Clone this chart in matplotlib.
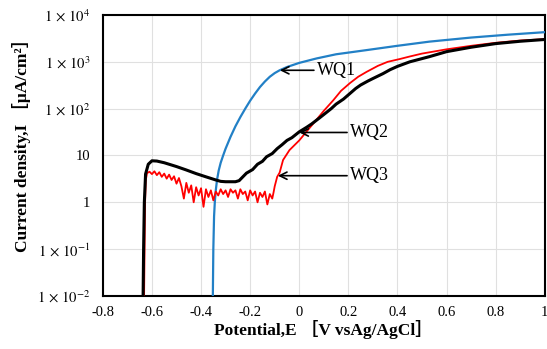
import matplotlib.pyplot as plt

plt.rcParams['font.family'] = ['Liberation Serif', 'Noto Sans CJK JP']
plt.rcParams['mathtext.fontset'] = 'stix'

# WQ1 (blue)
e_wq1 = [-0.352, -0.350, -0.347, -0.344, -0.340, -0.335, -0.328, -0.32, -0.31, -0.30, -0.28, -0.26,
         -0.24, -0.22, -0.20, -0.18, -0.16, -0.14, -0.12, -0.10, -0.08, -0.05, 0.0, 0.07, 0.15,
         0.274, 0.4, 0.53, 0.7, 0.85, 1.0]
i_wq1 = [0.01, 0.1, 0.5, 1.0, 1.8, 3.0, 4.8, 7.0, 10, 14, 25, 42,
         66, 100, 148, 210, 290, 380, 480, 575, 660, 775, 950, 1180, 1450,
         1780, 2200, 2700, 3300, 3800, 4300]

# WQ2 (black)
e_wq2 = [-0.636, -0.634, -0.631, -0.626, -0.615, -0.60, -0.58, -0.55, -0.50, -0.46, -0.42, -0.38,
         -0.34, -0.32, -0.30, -0.26, -0.245, -0.215, -0.19, -0.17, -0.15, -0.133, -0.11, -0.09,
         -0.07, -0.05, -0.03, 0.0, 0.03, 0.05, 0.08, 0.10, 0.13, 0.15, 0.18, 0.206, 0.23, 0.25,
         0.28, 0.30, 0.341, 0.37, 0.40, 0.45, 0.53, 0.6, 0.7, 0.8, 0.9, 1.0]
i_wq2 = [0.01, 0.1, 1.0, 4.0, 6.5, 7.7, 7.6, 7.0, 5.8, 4.9, 4.1, 3.5,
         3.0, 2.8, 2.75, 2.75, 2.9, 4.2, 5.0, 6.5, 7.5, 9.4, 11, 14,
         17, 21, 24, 32, 40, 47, 62, 75, 100, 125, 160, 210, 270, 320,
         390, 440, 560, 680, 800, 1000, 1290, 1650, 2050, 2450, 2750, 3000]

# WQ3 (red)
e_wq3 = [-0.632, -0.630, -0.628, -0.625, -0.62, -0.61, -0.60, -0.59, -0.58, -0.57, -0.56, -0.55,
         -0.54, -0.53, -0.52, -0.51, -0.50, -0.49, -0.48, -0.47, -0.46, -0.45, -0.44, -0.43,
         -0.42, -0.41, -0.40, -0.39, -0.38, -0.37, -0.36, -0.35, -0.34, -0.33, -0.32, -0.31,
         -0.30, -0.29, -0.28, -0.27, -0.26, -0.25, -0.24, -0.23, -0.22, -0.21, -0.20, -0.19,
         -0.18, -0.17, -0.16, -0.15, -0.14, -0.13, -0.12, -0.11, -0.105, -0.10, -0.09, -0.08,
         -0.066, -0.04, 0.0, 0.035, 0.07, 0.10, 0.138, 0.17, 0.206, 0.24, 0.274, 0.32, 0.36,
         0.41, 0.45, 0.5, 0.6, 0.7, 0.8, 0.9, 1.0]
i_wq3 = [0.01, 0.1, 1.0, 3.0, 4.2, 4.5, 4.0, 4.6, 3.8, 4.4, 3.5, 4.1,
         3.2, 3.9, 3.0, 3.6, 2.5, 3.3, 2.2, 1.2, 2.6, 1.6, 2.3, 1.0,
         2.1, 1.4, 2.0, 0.8, 1.9, 1.3, 1.8, 1.1, 1.7, 1.4, 1.9, 1.5,
         1.8, 1.3, 1.9, 1.6, 1.8, 1.2, 1.9, 1.5, 1.7, 1.1, 1.8, 1.4,
         1.7, 1.0, 1.6, 1.3, 1.7, 0.9, 1.5, 1.2, 1.6, 2.2, 3.5, 4.3,
         8, 13, 21, 35, 58, 90, 150, 240, 350, 480, 610, 820, 1000,
         1150, 1300, 1500, 1850, 2200, 2550, 2850, 3050]

xticks = [-0.8, -0.6, -0.4, -0.2, 0, 0.2, 0.4, 0.6, 0.8, 1]
xtick_labels = ['-0.8', '-0.6', '-0.4', '-0.2', '0', '0.2', '0.4', '0.6', '0.8', '1']
yticks = [1e-2, 1e-1, 1, 10, 1e2, 1e3, 1e4]
ytick_labels = [r'$1\,\times\,10^{-2}$', r'$1\,\times\,10^{-1}$', '1', '10',
                r'$1\,\times\,10^{2}$', r'$1\,\times\,10^{3}$', r'$1\,\times\,10^{4}$']

fig = plt.figure(figsize=(5.47, 3.49), dpi=100)
ax = fig.add_axes([0.188, 0.152, 0.808, 0.805])

ax.plot(e_wq1, i_wq1, color='#2280c6', lw=1.6, zorder=3)
ax.plot(e_wq3, i_wq3, color='#ff0000', lw=1.3, zorder=3)
ax.plot(e_wq2, i_wq2, color='black', lw=2.2, zorder=4)

ax.set_yscale('log')
ax.set_xlim(-0.8, 1)
ax.set_ylim(1e-2, 1e4)
ax.set_xticks(xticks)
ax.set_xticklabels(xtick_labels)
ax.set_yticks(yticks)
ax.set_yticklabels(ytick_labels)
ax.minorticks_off()
ax.tick_params(length=0, labelsize=10.5)
ax.tick_params(axis='x', pad=7)
ax.tick_params(axis='y', pad=9)
ax.grid(True, color='#e0e0e0', lw=0.8)
ax.set_axisbelow(True)
for s in ax.spines.values():
    s.set_linewidth(1.5)

arrow = dict(arrowstyle='->', color='black', lw=1.2, shrinkA=0, shrinkB=0)
ax.annotate('WQ1', xy=(-0.079, 660), xytext=(0.071, 660), fontsize=13,
            ha='left', va='center', arrowprops=arrow)
ax.annotate('WQ2', xy=(0.0, 31), xytext=(0.206, 31), fontsize=13,
            ha='left', va='center', arrowprops=arrow)
ax.annotate('WQ3', xy=(-0.087, 3.7), xytext=(0.206, 3.7), fontsize=13,
            ha='left', va='center', arrowprops=arrow)

ax.set_xlabel('Potential,E ［V vsAg/AgCl］', fontsize=12.5, fontweight='bold')
ax.set_ylabel('Current density,I ［μA/cm²］', fontsize=12.5, fontweight='bold')
ax.xaxis.set_label_coords(0.499, -0.085)
ax.yaxis.set_label_coords(-0.163, 0.55)

fig.savefig('out.png', dpi=100)
